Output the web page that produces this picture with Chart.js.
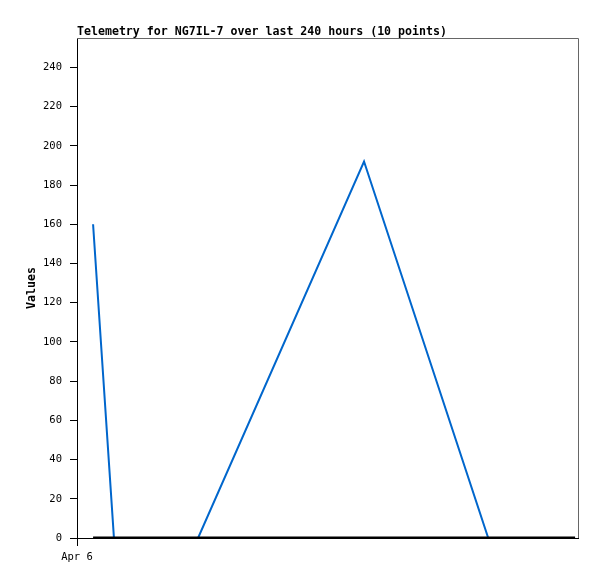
<!DOCTYPE html>
<html>
<head>
<meta charset="utf-8">
<script src="https://cdn.jsdelivr.net/npm/chart.js@4"></script>
<style>
  html, body { margin: 0; padding: 0; background: #fff; }
  #wrap { width: 597px; height: 579px; }
</style>
</head>
<body>
<div id="wrap"><canvas id="telemetry"></canvas></div>
<script>
// --- Data ---
const chartTitle = "Telemetry for NG7IL-7 over last 240 hours (10 points)";
const yAxisTitle = "Values";
const hours = [7.7, 17.7, 28, 38, 58, 137.5, 197, 218, 230, 238.6];
const telemetryValues = [160, 0, 0, 0, 0, 192, 0, 0, 0, 0];
const baselineValues = [0, 0, 0, 0, 0, 0, 0, 0, 0, 0];
const yTicks = [0, 20, 40, 60, 80, 100, 120, 140, 160, 180, 200, 220, 240];
const xTickLabel = "Apr 6";

const toPoints = vals => vals.map((v, i) => ({ x: hours[i], y: v }));

// --- Title, axis title, top/right border ---
const frame = {
    id: 'frame',
    afterDraw(chart) {
        const { ctx, chartArea: a } = chart;
        ctx.save();
        ctx.strokeStyle = '#666';
        ctx.lineWidth = 1;
        ctx.beginPath();
        ctx.moveTo(a.left, a.top + 0.5);
        ctx.lineTo(a.right + 0.5, a.top + 0.5);
        ctx.lineTo(a.right + 0.5, a.bottom);
        ctx.stroke();
        ctx.fillStyle = '#000';
        ctx.font = 'bold 11.6px "DejaVu Sans Mono"';
        ctx.textBaseline = 'alphabetic';
        ctx.fillText(chartTitle, a.left, 35);
        ctx.translate(32, (a.top + a.bottom) / 2);
        ctx.rotate(-Math.PI / 2);
        ctx.textAlign = 'center';
        ctx.textBaseline = 'middle';
        ctx.fillText(yAxisTitle, 0, 0);
        ctx.restore();
    }
};

new Chart(document.getElementById('telemetry').getContext('2d'), {
    type: 'line',
    data: {
        datasets: [{
            label: "Telemetry",
            data: toPoints(telemetryValues),
            borderColor: "#0066CC",
            borderWidth: 2,
            pointRadius: 0,
            tension: 0,
            order: 2
        }, {
            label: "Baseline",
            data: toPoints(baselineValues),
            borderColor: "#000",
            borderWidth: 3,
            pointRadius: 0,
            order: 1
        }]
    },
    options: {
        responsive: true,
        maintainAspectRatio: false,
        animation: false,
        layout: { padding: { left: 0, top: 38, right: 19, bottom: 0 } },
        plugins: { legend: { display: false }, title: { display: false }, tooltip: { enabled: false } },
        scales: {
            x: {
                type: 'linear', min: 0, max: 240,
                afterBuildTicks: s => { s.ticks = [{ value: 0 }]; },
                afterFit: s => { s.height = 41; },
                ticks: { callback: () => xTickLabel, color: '#000', font: { family: 'DejaVu Sans Mono', size: 10.5 }, padding: 5, maxRotation: 0 },
                grid: { drawOnChartArea: false, tickLength: 8, color: '#000' },
                border: { color: '#000', width: 1 }
            },
            y: {
                min: 0, max: 255,
                afterBuildTicks: s => { s.ticks = yTicks.map(v => ({ value: v })); },
                afterFit: s => { s.width = 77; },
                ticks: { color: '#000', font: { family: 'DejaVu Sans Mono', size: 10.5 }, padding: 8 },
                grid: { drawOnChartArea: false, tickLength: 7, color: '#000' },
                border: { color: '#000', width: 1 }
            }
        }
    },
    plugins: [frame]
});
</script>
</body>
</html>
